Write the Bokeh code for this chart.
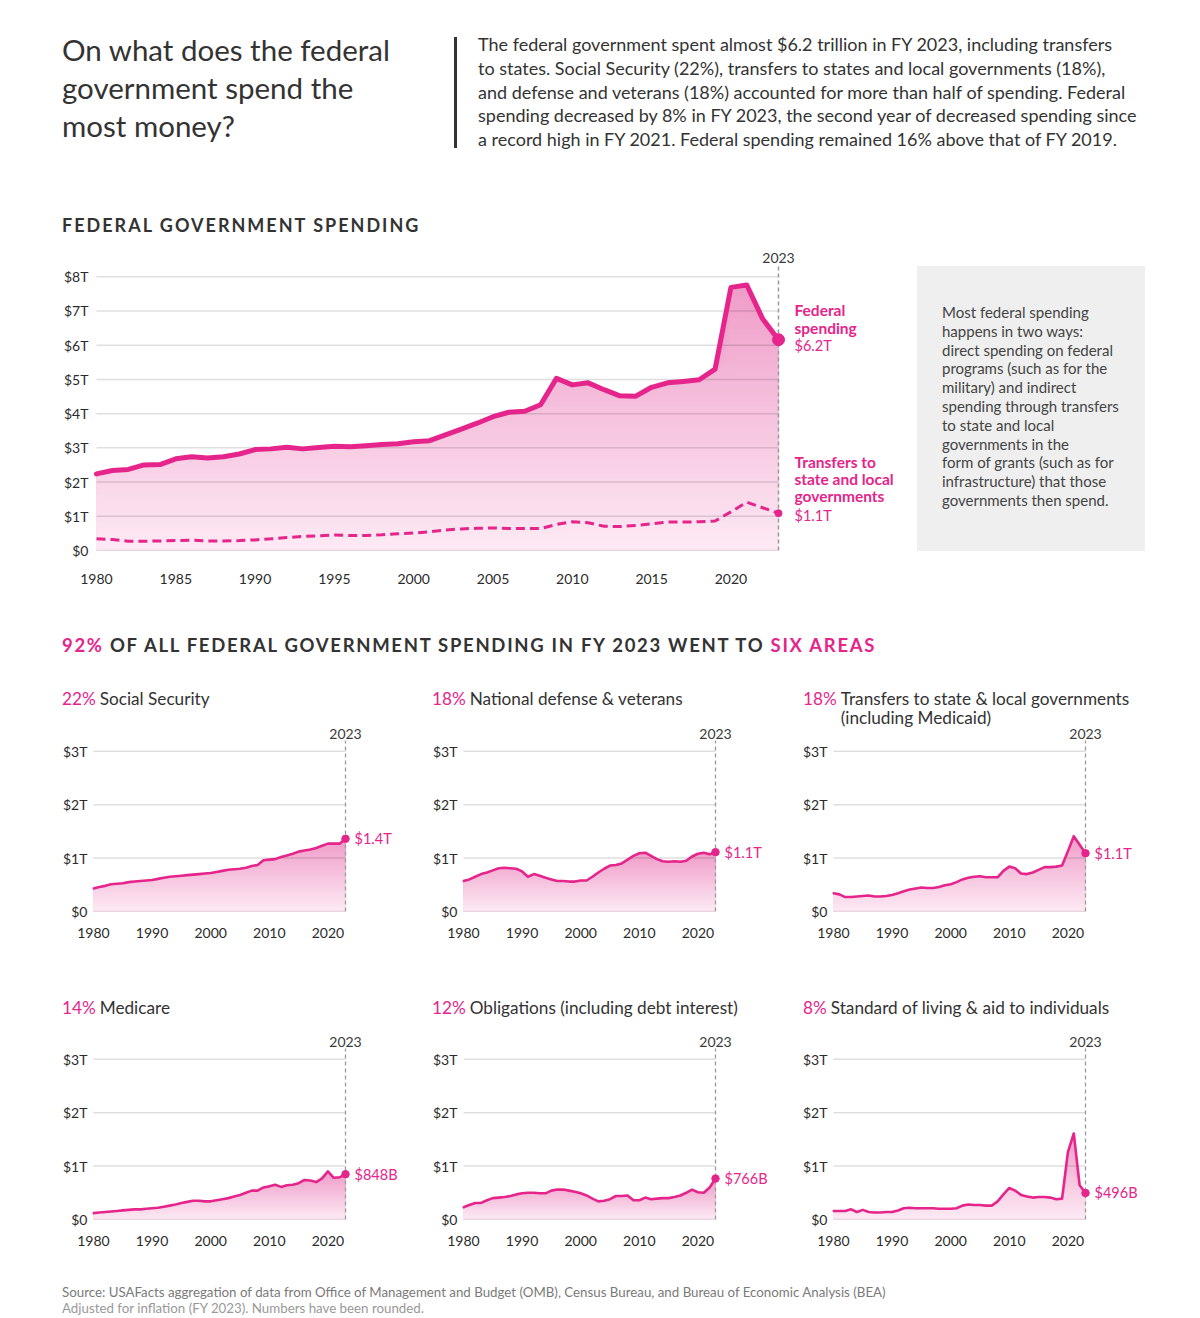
import numpy as np
from bokeh.plotting import figure
from bokeh.models import Range1d, FixedTicker, Label, Div
from bokeh.layouts import column, row
from bokeh.embed import file_html
from bokeh.resources import INLINE

# ---------------- data (trillions of FY2023 dollars) ----------------
years = list(range(1980, 2024))

federal = [2.24, 2.34, 2.37, 2.50, 2.51, 2.68, 2.74, 2.70, 2.74, 2.82,
           2.95, 2.97, 3.02, 2.97, 3.01, 3.05, 3.03, 3.06, 3.10, 3.12,
           3.18, 3.21, 3.38, 3.55, 3.72, 3.91, 4.04, 4.07, 4.26, 5.03,
           4.84, 4.90, 4.70, 4.52, 4.51, 4.77, 4.90, 4.94, 4.99, 5.30,
           7.69, 7.76, 6.77, 6.16]

transfers = [0.34, 0.32, 0.27, 0.27, 0.28, 0.29, 0.30, 0.28, 0.28, 0.29,
             0.31, 0.34, 0.38, 0.41, 0.43, 0.45, 0.44, 0.44, 0.46, 0.49,
             0.51, 0.55, 0.60, 0.63, 0.65, 0.66, 0.64, 0.64, 0.64, 0.76,
             0.84, 0.81, 0.71, 0.70, 0.73, 0.78, 0.83, 0.83, 0.84, 0.86,
             1.13, 1.41, 1.25, 1.09]

social_security = [0.43, 0.46, 0.48, 0.51, 0.52, 0.53, 0.55, 0.56, 0.57, 0.58,
                   0.59, 0.61, 0.63, 0.65, 0.66, 0.67, 0.68, 0.69, 0.70, 0.71,
                   0.72, 0.74, 0.76, 0.78, 0.79, 0.80, 0.82, 0.85, 0.87, 0.96,
                   0.97, 0.98, 1.02, 1.05, 1.08, 1.12, 1.14, 1.16, 1.19, 1.23,
                   1.27, 1.27, 1.27, 1.36]

defense = [0.57, 0.60, 0.65, 0.70, 0.73, 0.77, 0.81, 0.82, 0.81, 0.80,
           0.75, 0.65, 0.70, 0.67, 0.63, 0.60, 0.57, 0.57, 0.56, 0.56,
           0.58, 0.58, 0.65, 0.73, 0.80, 0.86, 0.87, 0.90, 0.97, 1.04,
           1.09, 1.10, 1.04, 0.98, 0.94, 0.93, 0.94, 0.93, 0.95, 1.03,
           1.08, 1.10, 1.07, 1.11]

medicare = [0.12, 0.13, 0.14, 0.15, 0.16, 0.17, 0.18, 0.19, 0.19, 0.20,
            0.21, 0.22, 0.24, 0.26, 0.28, 0.31, 0.33, 0.35, 0.35, 0.34,
            0.34, 0.36, 0.38, 0.40, 0.43, 0.46, 0.50, 0.54, 0.54, 0.60,
            0.62, 0.65, 0.61, 0.64, 0.65, 0.68, 0.74, 0.73, 0.70, 0.77,
            0.90, 0.78, 0.79, 0.848]

obligations = [0.23, 0.27, 0.31, 0.31, 0.36, 0.40, 0.41, 0.42, 0.44, 0.47,
               0.49, 0.50, 0.50, 0.49, 0.49, 0.54, 0.56, 0.56, 0.54, 0.52,
               0.49, 0.45, 0.39, 0.34, 0.35, 0.38, 0.44, 0.44, 0.45, 0.36,
               0.36, 0.41, 0.38, 0.39, 0.40, 0.40, 0.42, 0.45, 0.50, 0.56,
               0.51, 0.50, 0.60, 0.766]

living = [0.16, 0.16, 0.16, 0.19, 0.14, 0.18, 0.14, 0.13, 0.13, 0.14,
          0.14, 0.17, 0.21, 0.22, 0.21, 0.21, 0.21, 0.21, 0.20, 0.20,
          0.20, 0.21, 0.26, 0.28, 0.27, 0.27, 0.26, 0.26, 0.34, 0.47,
          0.59, 0.54, 0.46, 0.43, 0.41, 0.42, 0.42, 0.41, 0.38, 0.39,
          1.26, 1.61, 0.64, 0.496]

main_xticks = [1980, 1985, 1990, 1995, 2000, 2005, 2010, 2015, 2020]
main_yticks = [0, 1, 2, 3, 4, 5, 6, 7, 8]
small_xticks = [1980, 1990, 2000, 2010, 2020]
small_yticks = [0, 1, 2, 3]

small_titles = [
    ("22%", "Social Security"),
    ("18%", "National defense &amp; veterans"),
    ("18%", "Transfers to state &amp; local governments<br>(including Medicaid)"),
    ("14%", "Medicare"),
    ("12%", "Obligations (including debt interest)"),
    ("8%", "Standard of living &amp; aid to individuals"),
]
small_series = [social_security, defense, transfers, medicare, obligations, living]

# ---------------- styles ----------------
PINK = "#e5258b"
TEXT = "#333333"
FONT = "Lato"
TOP_RGB = (0xEF, 0x9C, 0xC8)
BOT_RGB = (0xFD, 0xEA, 0xF4)


def ylab(v):
    return "$0" if v == 0 else f"${v}T"


def vlab(v):
    return f"${v:.1f}T" if v >= 1 else f"${v * 1000:.0f}B"


def gradient_area(p, x, vals, n=48):
    v = np.array(vals, dtype=float)
    vmax = v.max()
    for i in range(n - 1, -1, -1):
        lev = vmax * (i + 1) / n
        t = (i + 0.5) / n
        c = tuple(int(round(BOT_RGB[k] + (TOP_RGB[k] - BOT_RGB[k]) * t)) for k in range(3))
        p.varea(x=x, y1=np.zeros_like(v), y2=np.minimum(v, lev),
                fill_color="#%02x%02x%02x" % c)


def style_axes(p, xticks, yticks, xstand, ystand, fs):
    p.outline_line_color = None
    p.border_fill_color = None
    p.background_fill_color = None
    p.xgrid.visible = False
    p.ygrid.visible = False
    for ax in (p.xaxis[0], p.yaxis[0]):
        ax.axis_line_color = None
        ax.major_tick_line_color = None
        ax.minor_tick_line_color = None
        ax.major_tick_out = 0
        ax.major_tick_in = 0
        ax.major_label_text_font = FONT
        ax.major_label_text_font_size = fs
        ax.major_label_text_color = "#2b2b2b"
    p.xaxis[0].ticker = FixedTicker(ticks=xticks)
    p.yaxis[0].ticker = FixedTicker(ticks=yticks)
    p.yaxis[0].major_label_overrides = {t: ylab(t) for t in yticks}
    p.xaxis[0].major_label_standoff = xstand
    p.yaxis[0].major_label_standoff = ystand


def grid_lines(p, yticks):
    p.segment(x0=[years[0]] * len(yticks), y0=yticks, x1=[years[-1]] * len(yticks), y1=yticks,
              line_color="#000000", line_alpha=0.13, line_width=1.5)


def year_marker(p, ytop, yoff, width):
    p.segment(x0=[years[-1]], y0=[0], x1=[years[-1]], y1=[ytop],
              line_color="#9a9a9a", line_dash="4 3", line_width=width)
    p.add_layout(Label(x=years[-1], y=ytop, y_offset=yoff, text=str(years[-1]), text_align="center",
                       text_baseline="bottom", text_font=FONT, text_font_size="14px", text_color="#3a3a3a"))


# ---------------- header ----------------
header = Div(width=1184, height=240, margin=(0, 0, 0, 0), styles={"overflow": "visible"}, text=f"""
<div style="position:relative;width:1184px;height:240px;font-family:{FONT};color:{TEXT};">
  <div style="position:absolute;left:54px;top:23px;font-size:29.5px;line-height:38px;white-space:nowrap;">On what does the federal<br>government spend the<br>most money?</div>
  <div style="position:absolute;left:446px;top:29px;width:3px;height:111px;background:#333;"></div>
  <div style="position:absolute;left:470px;top:25px;font-size:18px;line-height:23.8px;white-space:nowrap;">The federal government spent almost $6.2 trillion in FY 2023, including transfers<br>to states. Social Security (22%), transfers to states and local governments (18%),<br>and defense and veterans (18%) accounted for more than half of spending. Federal<br>spending decreased by 8% in FY 2023, the second year of decreased spending since<br>a record high in FY 2021. Federal spending remained 16% above that of FY 2019.</div>
  <div style="position:absolute;left:54px;top:206px;font-size:18px;line-height:22px;font-weight:bold;letter-spacing:2px;white-space:nowrap;">FEDERAL GOVERNMENT SPENDING</div>
</div>""")

# ---------------- main chart ----------------
PX_YR = (778 - 96) / 43.0
PX_T = 284 / 8.3
ML, MW = 85, 897
MH, MB = 352, 50
x0 = years[0] - 3 / PX_YR
main = figure(width=MW, height=MH,
              x_range=Range1d(x0, x0 + (MW - ML) / PX_YR), y_range=Range1d(0, (MH - MB) / PX_T),
              output_backend="svg", toolbar_location=None,
              min_border_left=ML, min_border_right=0, min_border_top=0, min_border_bottom=MB)
style_axes(main, main_xticks, main_yticks, 23, 5, "14px")
gradient_area(main, years, federal)
grid_lines(main, main_yticks)
year_marker(main, 8.3, 4, 1.5)
main.line(years, transfers, line_width=3, line_color=PINK, line_dash="9 5")
main.line(years, federal, line_width=5, line_color=PINK, line_join="round", line_cap="round")
main.scatter([years[-1]], [federal[-1]], size=12, color=PINK)
main.scatter([years[-1]], [transfers[-1]], size=7, color=PINK)
main.add_layout(Label(x=years[-1], y=federal[-1], x_offset=16, y_offset=3, text="Federal\nspending",
                      text_baseline="bottom", text_font=FONT, text_font_size="15.5px",
                      text_font_style="bold", text_color=PINK, text_line_height=0.98))
main.add_layout(Label(x=years[-1], y=federal[-1], x_offset=16, y_offset=-6, text=vlab(federal[-1]),
                      text_baseline="middle", text_font=FONT, text_font_size="14.5px", text_color=PINK))
main.add_layout(Label(x=years[-1], y=transfers[-1], x_offset=16, y_offset=8,
                      text="Transfers to\nstate and local\ngovernments",
                      text_baseline="bottom", text_font=FONT, text_font_size="15.5px",
                      text_font_style="bold", text_color=PINK, text_line_height=0.95))
main.add_layout(Label(x=years[-1], y=transfers[-1], x_offset=16, y_offset=-2, text=vlab(transfers[-1]),
                      text_baseline="middle", text_font=FONT, text_font_size="14.5px", text_color=PINK))

box = Div(width=1184 - MW, height=MH, margin=(0, 0, 0, 0), styles={"overflow": "visible"}, text=f"""
<div style="position:relative;width:{1184 - MW}px;height:{MH}px;">
 <div style="position:absolute;left:12px;top:18px;width:228px;height:285px;background:#efefef;"></div>
 <div style="position:absolute;left:37px;top:55px;font-family:{FONT};font-size:15px;line-height:18.8px;color:#444;white-space:nowrap;">Most federal spending<br>happens in two ways:<br>direct spending on federal<br>programs (such as for the<br>military) and indirect<br>spending through transfers<br>to state and local<br>governments in the<br>form of grants (such as for<br>infrastructure) that those<br>governments then spend.</div>
</div>""")

section = Div(width=1184, height=80, margin=(0, 0, 0, 0), styles={"overflow": "visible"}, text=f"""
<div style="position:relative;width:1184px;height:80px;">
<div style="position:absolute;left:54px;top:34px;font-family:{FONT};font-size:18.5px;line-height:22px;font-weight:bold;letter-spacing:1.7px;color:{TEXT};white-space:nowrap;"><span style="color:{PINK}">92%</span> OF ALL FEDERAL GOVERNMENT SPENDING IN FY 2023 WENT TO <span style="color:{PINK}">SIX AREAS</span></div>
</div>""")

# ---------------- small multiples ----------------
S_PX_YR = (345 - 93) / 43.0
S_PX_T = 171 / 3.2
S_H, S_MB = 235, 49
cell_w = [392, 370, 422]
cell_bl = [84, 62, 62]
title_left = [54, 32, 33]


def small_chart(vals, ci):
    w = cell_w[ci]
    bl = cell_bl[ci]
    sx0 = years[0] - 1 / S_PX_YR
    p = figure(width=w, height=S_H,
               x_range=Range1d(sx0, sx0 + (w - bl) / S_PX_YR),
               y_range=Range1d(0, (S_H - S_MB) / S_PX_T),
               output_backend="svg", toolbar_location=None,
               min_border_left=bl, min_border_right=0, min_border_top=0, min_border_bottom=S_MB)
    style_axes(p, small_xticks, small_yticks, 16, 5, "14px")
    gradient_area(p, years, vals)
    grid_lines(p, small_yticks)
    year_marker(p, 3.2, 2, 1.3)
    p.line(years, vals, line_width=2.6, line_color=PINK, line_join="round", line_cap="round")
    p.scatter([years[-1]], [vals[-1]], size=7.5, color=PINK)
    p.add_layout(Label(x=years[-1], y=vals[-1], x_offset=9, text=vlab(vals[-1]),
                       text_baseline="middle", text_font=FONT, text_font_size="14.5px", text_color=PINK))
    return p


def title_div(pct, txt, ci, h, top):
    w = cell_w[ci]
    return Div(width=w, height=h, margin=(0, 0, 0, 0), styles={"overflow": "visible"}, text=f"""
<div style="position:relative;width:{w}px;height:{h}px;">
<div style="position:absolute;left:{title_left[ci]}px;top:{top}px;display:flex;gap:4px;font-family:{FONT};font-size:17.2px;line-height:19px;color:{TEXT};white-space:nowrap;"><span style="color:{PINK}">{pct}</span><span>{txt}</span></div>
</div>""")


rows = []
for r in range(2):
    cells = []
    for ci in range(3):
        k = r * 3 + ci
        pct, txt = small_titles[k]
        h, top = (45, 9) if r == 0 else (73, 38)
        cells.append(column(title_div(pct, txt, ci, h, top), small_chart(small_series[k], ci), spacing=0))
    rows.append(row(*cells, spacing=0))

footer = Div(width=1184, height=42, margin=(0, 0, 0, 0), styles={"overflow": "visible"}, text=f"""
<div style="position:relative;width:1184px;height:42px;">
<div style="position:absolute;left:54px;top:17px;font-family:{FONT};font-size:13.3px;line-height:15.5px;white-space:nowrap;"><span style="color:#7a7a7a">Source: USAFacts aggregation of data from Office of Management and Budget (OMB), Census Bureau, and Bureau of Economic Analysis (BEA)</span><br><span style="color:#999">Adjusted for inflation (FY 2023). Numbers have been rounded.</span></div>
</div>""")

layout = column(header, row(main, box, spacing=0), section, rows[0], rows[1], footer,
                spacing=0, margin=(8, 0, 0, 8))

open("out.html", "w").write(file_html(layout, INLINE))
